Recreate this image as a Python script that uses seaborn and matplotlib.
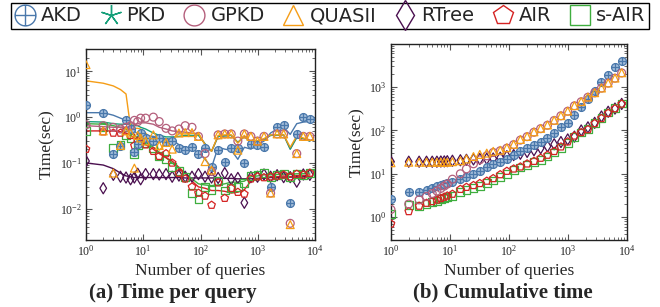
import numpy as np
import matplotlib
matplotlib.use("Agg")
import matplotlib.pyplot as plt
from matplotlib.path import Path
from matplotlib.lines import Line2D
import seaborn as sns

sns.set_theme(style="ticks")
plt.rcParams["font.family"] = ["Liberation Serif", "DejaVu Serif"]
plt.rcParams["mathtext.fontset"] = "cm"

# ---------------- data ----------------
queries = [1, 2, 3, 4, 5, 6, 7, 8, 9, 11, 15, 19, 25, 32, 42, 54, 71, 92, 120, 156,
           203, 265, 344, 449, 583, 759, 989, 1285, 1675, 2178, 2831, 3690, 4797, 6252, 8128]

methods = ["AKD", "PKD", "GPKD", "QUASII", "RTree", "AIR", "s-AIR"]

# (a) time per query: sampled points
per_akd = [1.8, 1.25, 0.16, 0.24, 0.85, 0.55, 0.17, 0.26, 0.45, 0.35, 0.3, 0.35, 0.28, 0.3, 0.21, 0.19, 0.22, 0.16,
           0.21, 0.08, 0.19, 0.107, 0.21, 0.21, 0.1, 0.26, 0.25, 0.22, 0.03, 0.6, 0.68, 0.0135, 0.43, 1.0, 0.9]
per_pkd = [0.8, 0.85, 0.55, 0.53, 0.9, 0.6, 0.7, 0.9, 0.6, 0.6, 0.6, 0.45, 0.35, 0.38, 0.4, 0.43, 0.43, 0.38,
           0.16, 0.065, 0.41, 0.43, 0.43, 0.3, 0.43, 0.38, 0.3, 0.38, 0.022, 0.43, 0.43, 0.0048, 0.16, 0.38, 0.38]
per_gpkd = [0.68, 0.65, 0.6, 0.55, 0.6, 0.65, 0.85, 0.8, 0.95, 0.95, 1.0, 0.8, 0.57, 0.5, 0.55, 0.65, 0.6, 0.38,
            0.16, 0.065, 0.41, 0.43, 0.43, 0.3, 0.43, 0.38, 0.3, 0.38, 0.022, 0.43, 0.43, 0.0048, 0.16, 0.38, 0.38]
per_quasii = [14.0, 0.5, 0.06, 0.24, 0.5, 0.45, 0.077, 0.4, 0.35, 0.3, 0.41, 0.24, 0.28, 0.2, 0.45, 0.46, 0.46, 0.38,
              0.107, 0.07, 0.41, 0.43, 0.43, 0.19, 0.43, 0.38, 0.3, 0.38, 0.022, 0.43, 0.43, 0.0045, 0.16, 0.38, 0.38]
per_rtree = [0.11, 0.028, 0.055, 0.05, 0.048, 0.044, 0.048, 0.058, 0.044, 0.057, 0.057, 0.056, 0.057, 0.05, 0.053,
             0.05, 0.05, 0.057, 0.05, 0.048, 0.047, 0.06, 0.044, 0.047, 0.0135, 0.049, 0.05, 0.056, 0.05, 0.054,
             0.049, 0.049, 0.039, 0.056, 0.055]
per_air = [0.2, 0.48, 0.45, 0.45, 0.5, 0.4, 0.24, 0.3, 0.27, 0.25, 0.18, 0.14, 0.16, 0.1, 0.06, 0.045, 0.03, 0.022,
           0.019, 0.012, 0.037, 0.017, 0.028, 0.023, 0.021, 0.045, 0.05, 0.048, 0.05, 0.052, 0.055, 0.05, 0.057,
           0.055, 0.06]
per_sair = [0.5, 0.6, 0.21, 0.25, 0.4, 0.35, 0.16, 0.24, 0.32, 0.27, 0.21, 0.14, 0.12, 0.083, 0.066, 0.05, 0.022,
            0.016, 0.03, 0.026, 0.04, 0.025, 0.028, 0.03, 0.036, 0.052, 0.055, 0.06, 0.05, 0.055, 0.057, 0.05,
            0.058, 0.055, 0.06]

# (a) time per query: smoothed trend lines
trend_akd = [1.25, 1.25, 1.1, 0.95, 0.85, 0.7, 0.5, 0.42, 0.4, 0.4, 0.38, 0.36, 0.34, 0.32, 0.25, 0.22, 0.2, 0.17,
             0.12, 0.08, 0.22, 0.2, 0.19, 0.12, 0.22, 0.2, 0.25, 0.3, 0.45, 0.55, 0.6, 0.42, 0.72, 0.78, 0.8]
trend_pkd = [0.8, 0.78, 0.72, 0.7, 0.7, 0.68, 0.65, 0.65, 0.6, 0.55, 0.45, 0.4, 0.37, 0.37, 0.38, 0.4, 0.4, 0.4,
             0.26, 0.18, 0.38, 0.39, 0.4, 0.28, 0.38, 0.28, 0.3, 0.33, 0.4, 0.4, 0.41, 0.2, 0.36, 0.34, 0.3]
trend_gpkd = [0.65, 0.62, 0.6, 0.6, 0.6, 0.62, 0.68, 0.72, 0.75, 0.75, 0.7, 0.6, 0.55, 0.5, 0.48, 0.47, 0.45, 0.42,
              0.26, 0.18, 0.38, 0.39, 0.4, 0.28, 0.38, 0.28, 0.3, 0.33, 0.4, 0.4, 0.41, 0.2, 0.36, 0.34, 0.3]
trend_quasii = [6.2, 5.5, 4.8, 4.0, 3.2, 0.6, 0.57, 0.57, 0.55, 0.45, 0.3, 0.19, 0.26, 0.33, 0.43, 0.43, 0.44, 0.44,
                0.25, 0.18, 0.4, 0.41, 0.41, 0.27, 0.4, 0.27, 0.3, 0.34, 0.41, 0.41, 0.41, 0.22, 0.39, 0.35, 0.32]
trend_rtree = [0.1, 0.09, 0.075, 0.06, 0.052, 0.05, 0.048, 0.048, 0.048, 0.048, 0.048, 0.048, 0.048, 0.048, 0.048,
               0.047, 0.047, 0.047, 0.047, 0.047, 0.047, 0.046, 0.046, 0.045, 0.045, 0.045, 0.046, 0.047, 0.048,
               0.048, 0.049, 0.049, 0.049, 0.05, 0.05]
trend_air = [0.5, 0.5, 0.5, 0.48, 0.45, 0.4, 0.35, 0.32, 0.3, 0.25, 0.2, 0.16, 0.13, 0.11, 0.08, 0.06, 0.04, 0.03,
             0.028, 0.025, 0.025, 0.024, 0.022, 0.023, 0.026, 0.04, 0.045, 0.047, 0.05, 0.05, 0.052, 0.05, 0.053,
             0.053, 0.055]
trend_sair = [0.72, 0.7, 0.65, 0.6, 0.55, 0.45, 0.4, 0.35, 0.32, 0.28, 0.22, 0.17, 0.13, 0.1, 0.075, 0.06, 0.045,
              0.035, 0.033, 0.032, 0.033, 0.035, 0.038, 0.038, 0.04, 0.05, 0.052, 0.055, 0.055, 0.056, 0.057, 0.056,
              0.058, 0.058, 0.06]

# (b) cumulative time
cum_akd = [2.6, 3.7, 3.8, 4.3, 4.7, 5.1, 5.4, 5.7, 6.0, 6.6, 7.5, 8.5, 10, 11.5, 14, 17, 19, 22, 27, 33, 40, 47, 55,
           68, 88, 120, 150, 230, 340, 520, 800, 1350, 1900, 2900, 4000]
cum_pkd = [1.2, 2.0, 2.7, 3.3, 3.8, 4.3, 4.8, 5.3, 5.8, 6.5, 8.5, 11, 14, 18, 22, 27, 30, 35, 42, 55, 67, 85, 105,
           127, 165, 210, 270, 360, 450, 570, 720, 920, 1200, 1580, 2100]
cum_gpkd = [1.5, 2.0, 2.5, 3.0, 3.5, 4.0, 4.6, 5.2, 5.8, 7.5, 10, 13, 17, 21, 26, 31, 34, 39, 47, 60, 72, 91, 110,
            132, 170, 218, 278, 370, 460, 585, 740, 950, 1240, 1610, 2130]
cum_quasii = [18, 18.5, 18.5, 18.5, 18.5, 18.5, 18.5, 18.5, 18.5, 19, 20, 22, 25, 28, 30, 33, 35, 40, 48, 62, 73,
              93, 112, 134, 172, 220, 280, 375, 465, 590, 745, 955, 1250, 1620, 2150]
cum_rtree = [19, 19, 19, 19, 19, 19, 19.2, 19.3, 19.5, 20, 20.5, 21, 21.5, 22, 22.3, 22.5, 23.5, 25.5, 27, 29, 32,
             35, 39, 43, 48, 54, 62, 72, 100, 118, 150, 210, 270, 320, 410]
cum_air = [0.7, 1.35, 1.8, 2.1, 2.3, 2.5, 2.7, 2.9, 3.1, 3.4, 4.4, 4.9, 5.4, 6.0, 6.8, 7.8, 9.6, 11.5, 13, 14.5, 17,
           19.5, 23, 27, 33, 42, 55, 75, 90, 105, 145, 190, 250, 320, 410]
cum_sair = [1.2, 1.9, 1.8, 2.0, 2.2, 2.4, 2.6, 2.7, 2.9, 3.1, 3.8, 4.2, 4.6, 5.2, 6.0, 7.0, 8.4, 10, 12, 14, 16,
            18.5, 21, 25, 31, 40, 52, 72, 90, 110, 150, 195, 260, 330, 420]

per_data = [per_akd, per_pkd, per_gpkd, per_quasii, per_rtree, per_air, per_sair]
trend_data = [trend_akd, trend_pkd, trend_gpkd, trend_quasii, trend_rtree, trend_air, trend_sair]
cum_data = [cum_akd, cum_pkd, cum_gpkd, cum_quasii, cum_rtree, cum_air, cum_sair]

# ---------------- styles ----------------
oplus = Path.make_compound_path(
    Path.unit_circle(),
    Path([[-1, 0], [1, 0]], [Path.MOVETO, Path.LINETO]),
    Path([[0, -1], [0, 1]], [Path.MOVETO, Path.LINETO]),
)
colors = ["#4a78ab", "#17a07a", "#b45f7c", "#f59d16", "#4a0f4f", "#d42323", "#3fae3f"]
markers = [oplus, (5, 2, 0), "o", "^", "d", "p", "s"]
faces = ["#a4bedb", "none", "none", "none", "none", "none", "none"]
line_order = [4, 6, 5, 0, 2, 1, 3]

fig = plt.figure(figsize=(6.6, 3.07), dpi=100)
axA = fig.add_axes([0.1303, 0.218, 0.347, 0.623])
axB = fig.add_axes([0.5924, 0.218, 0.3576, 0.638])

for i in line_order:
    sns.lineplot(x=queries, y=trend_data[i], ax=axA, color=colors[i], linewidth=1.0,
                 estimator=None, sort=False, legend=False)
for i in line_order:
    sns.scatterplot(x=queries, y=per_data[i], ax=axA, marker=markers[i], s=32,
                    facecolor=faces[i], edgecolor=colors[i], color=colors[i],
                    linewidth=0.9, legend=False, zorder=3)
    sns.scatterplot(x=queries, y=cum_data[i], ax=axB, marker=markers[i], s=32,
                    facecolor=faces[i], edgecolor=colors[i], color=colors[i],
                    linewidth=0.9, legend=False, zorder=3)

for ax, ylim in ((axA, (0.00207, 31)), (axB, (0.295, 9800))):
    ax.set_xscale("log")
    ax.set_yscale("log")
    ax.set_xlim(1, 1e4)
    ax.set_ylim(*ylim)
    ax.tick_params(which="both", direction="in", top=True, right=True, labelsize=8.5, pad=3,
                   color="#555555")
    ax.tick_params(which="major", length=4, width=0.8)
    ax.tick_params(which="minor", length=2, width=0.6)
    for sp in ax.spines.values():
        sp.set_color("#222222")
        sp.set_linewidth(1.0)
    ax.set_xlabel("Number of queries", fontsize=12.5, labelpad=3)
    ax.set_ylabel("Time(sec)", fontsize=12.5, labelpad=3)

axA.set_xticks([1, 10, 100, 1000, 10000])
axB.set_xticks([1, 10, 100, 1000, 10000])
axA.set_yticks([1e-2, 1e-1, 1, 10])
axB.set_yticks([1, 10, 100, 1000])

fig.text(0.262, 0.047, "(a) Time per query", ha="center", va="center", fontsize=15, fontweight="bold")
fig.text(0.762, 0.047, "(b) Cumulative time", ha="center", va="center", fontsize=15, fontweight="bold")

handles = [Line2D([], [], linestyle="none", marker=markers[i], markersize=15,
                  markerfacecolor="none", markeredgecolor=colors[i], markeredgewidth=1.0)
           for i in range(7)]
leg = fig.legend(handles, methods, loc="upper center", bbox_to_anchor=(0.5, 0.998), ncol=7,
                 frameon=True, fancybox=False, edgecolor="black", framealpha=1,
                 prop={"family": "DejaVu Sans", "size": 14}, handlelength=1.05, handletextpad=0.3,
                 columnspacing=0.95, borderpad=0.2, borderaxespad=0.1)
leg.get_frame().set_linewidth(1.0)

fig.savefig("out.png", dpi=100)
